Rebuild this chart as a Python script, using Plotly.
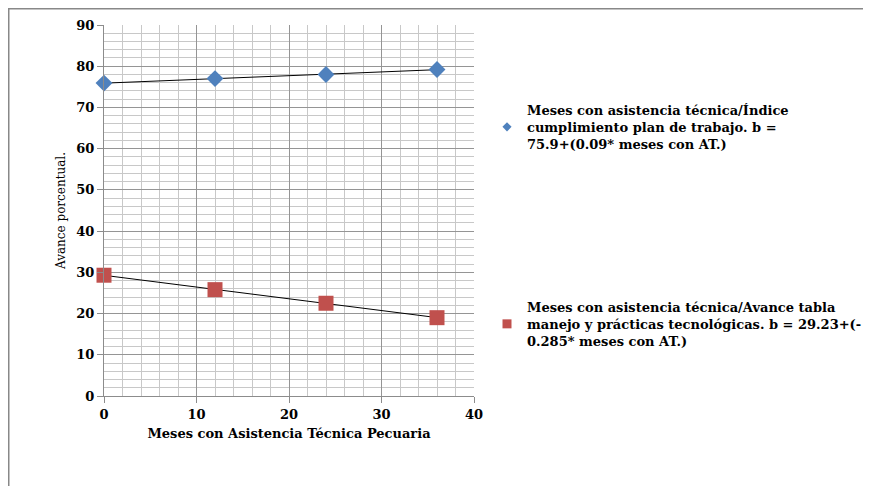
import numpy as np
import plotly.graph_objects as go

meses = [0, 12, 24, 36]
indice_plan = [75.9, 77.0, 78.0, 79.2]
avance_tabla = [29.3, 25.8, 22.5, 19.0]

name1 = "Meses con asistencia técnica/Índice<br>cumplimiento plan de trabajo. b =<br>75.9+(0.09* meses con AT.)"
name2 = "Meses con asistencia técnica/Avance tabla<br>manejo y prácticas tecnológicas. b = 29.23+(-<br>0.285* meses con AT.)"

blue = "#4F81BD"
red = "#C0504D"
font_family = "DejaVu Serif, Liberation Serif, serif"

# plot area in figure pixels (page has an 8px body margin)
L, R, T, B = 96, 466, 17, 388
W, H = 871, 486

fig = go.Figure()

# trend lines (least squares fits of each series)
xs = np.array([min(meses), max(meses)], dtype=float)
for ys in (indice_plan, avance_tabla):
    m, c = np.polyfit(meses, ys, 1)
    fig.add_trace(go.Scatter(x=xs, y=m * xs + c, mode="lines",
                             line=dict(color="black", width=1), showlegend=False,
                             hoverinfo="skip", cliponaxis=False))

fig.add_trace(go.Scatter(x=meses, y=indice_plan, mode="markers", showlegend=False,
                         cliponaxis=False,
                         marker=dict(symbol="diamond", size=13, color=blue)))
fig.add_trace(go.Scatter(x=meses, y=avance_tabla, mode="markers", showlegend=False,
                         cliponaxis=False,
                         marker=dict(symbol="square", size=15, color=red)))

# legend entries
fig.add_trace(go.Scatter(x=[None], y=[None], mode="markers", name=name1,
                         marker=dict(symbol="diamond", size=7, color=blue), legend="legend"))
fig.add_trace(go.Scatter(x=[None], y=[None], mode="markers", name=name2,
                         marker=dict(symbol="square", size=9, color=red), legend="legend2"))

axis_common = dict(
    showgrid=True, gridcolor="#959595", gridwidth=1,
    showline=True, linecolor="#8c8c8c", linewidth=1,
    ticks="outside", ticklen=6, tickcolor="#8c8c8c",
    zeroline=False, mirror=False,
    tickfont=dict(family=font_family, size=13, color="black", weight="bold"),
)

fig.update_xaxes(range=[0, 40], dtick=10, tick0=0,
                 minor=dict(dtick=2, showgrid=True, gridcolor="#c8c8c8", gridwidth=1),
                 title=dict(text="Meses con Asistencia Técnica Pecuaria",
                            font=dict(family=font_family, size=13, color="black", weight="bold"),
                            standoff=8),
                 **axis_common)
fig.update_yaxes(range=[0, 90], dtick=10, tick0=0,
                 minor=dict(dtick=2, showgrid=True, gridcolor="#c8c8c8", gridwidth=1),
                 title=dict(text="Avance porcentual.",
                            font=dict(family=font_family, size=12, color="black"),
                            standoff=8),
                 **axis_common)

pw, ph = R - L, B - T
def px(x):
    return (x - L) / pw
def py(y):
    return (B - y) / ph

legend_font = dict(family=font_family, size=13, color="black", weight="bold")
fig.update_layout(
    width=W, height=H,
    margin=dict(l=L, r=W - R, t=T, b=H - B, autoexpand=False),
    plot_bgcolor="white", paper_bgcolor="white",
    legend=dict(x=px(479), y=py(87), xanchor="left", yanchor="top", font=legend_font,
                bgcolor="rgba(0,0,0,0)", itemwidth=30),
    legend2=dict(x=px(479), y=py(284), xanchor="left", yanchor="top", font=legend_font,
                 bgcolor="rgba(0,0,0,0)", itemwidth=30),
    shapes=[
        dict(type="rect", xref="paper", yref="paper",
             x0=px(0.5), x1=px(858), y0=py(500), y1=py(0.5),
             line=dict(color="#888888", width=2), layer="below"),
    ],
)

fig.write_html("out.html")
